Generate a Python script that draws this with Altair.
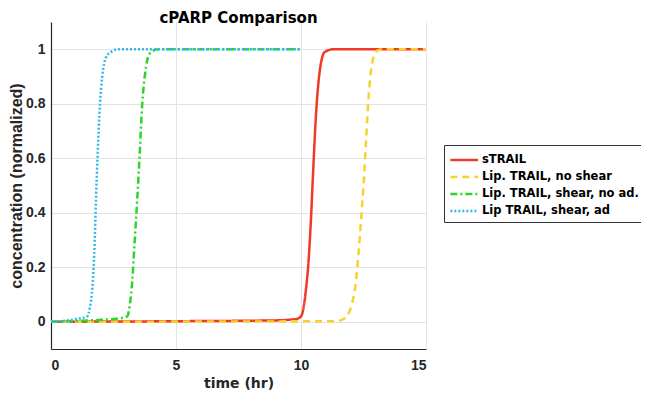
import altair as alt
import pandas as pd

chart_title = ["cPARP Comparison"]
series_names = ["sTRAIL", "Lip. TRAIL, no shear", "Lip. TRAIL, shear, no ad.", "Lip TRAIL, shear, ad"]
series_colors = ["#f03a26", "#f7d22c", "#2bd62b", "#33b8ea"]
series_dash = [[1, 0], [7, 5], [7, 3, 2, 3], [2, 2]]

strail_t = [0, 5, 9, 9.8, 10.0, 10.1, 10.2, 10.3, 10.4, 10.5, 10.6, 10.7, 10.8, 10.95, 11.3, 15]
strail_c = [0, 0.002, 0.005, 0.01, 0.02, 0.05, 0.12, 0.22, 0.38, 0.58, 0.76, 0.88, 0.95, 0.99, 1.0, 1.0]

noshear_t = [0, 11.4, 11.7, 11.9, 12.05, 12.2, 12.3, 12.4, 12.5, 12.6, 12.7, 12.8, 12.9, 13.05, 13.3, 15]
noshear_c = [0, 0.002, 0.01, 0.03, 0.07, 0.15, 0.25, 0.37, 0.5, 0.66, 0.82, 0.92, 0.97, 0.995, 1.0, 1.0]

shearnoad_t = [0, 1, 2, 2.7, 3.05, 3.15, 3.25, 3.35, 3.45, 3.55, 3.65, 3.75, 3.85, 4.0, 4.3, 10]
shearnoad_c = [0, 0.003, 0.007, 0.012, 0.02, 0.06, 0.15, 0.3, 0.45, 0.62, 0.8, 0.9, 0.96, 0.99, 1.0, 1.0]

shearad_t = [0, 0.5, 1.0, 1.45, 1.55, 1.63, 1.73, 1.8, 1.86, 1.96, 2.05, 2.2, 2.4, 2.7, 10]
shearad_c = [0, 0.003, 0.01, 0.02, 0.05, 0.1, 0.25, 0.45, 0.6, 0.8, 0.9, 0.97, 0.99, 1.0, 1.0]

all_t = [strail_t, noshear_t, shearnoad_t, shearad_t]
all_c = [strail_c, noshear_c, shearnoad_c, shearad_c]

rows = []
for name, ts, cs in zip(series_names, all_t, all_c):
    for t, c in zip(ts, cs):
        rows.append({"series": name, "t": t, "c": c})
df = pd.DataFrame(rows)

FONT = "Liberation Sans"
WIDE = "DejaVu Sans"
AX = "#262626"
W = 375
H = 327

x_enc = alt.X("t:Q", scale=alt.Scale(domain=[0, 15], nice=False),
              axis=alt.Axis(values=[0, 5, 10, 15], title="time (hr)",
                            titleFont=WIDE, titleFontSize=14,
                            titleY=38, titleBaseline="alphabetic"))
y_enc = alt.Y("c:Q", scale=alt.Scale(domain=[-0.1, 1.1], nice=False, zero=False),
              axis=alt.Axis(values=[0, 0.2, 0.4, 0.6, 0.8, 1], format="~g",
                            title="concentration (normalized)",
                            titleFont=FONT, titleFontSize=16,
                            titleX=-35, titleY=H / 2, titleBaseline="middle"))
color_enc = alt.Color("series:N", scale=alt.Scale(domain=series_names, range=series_colors),
                      legend=alt.Legend(title=None, orient="none", legendX=393, legendY=123,
                                        symbolType="M-1,0L2.2,0", symbolSize=300,
                                        symbolStrokeWidth=2.5,
                                        labelFont=WIDE, labelFontSize=11.5, labelFontWeight="bold",
                                        labelColor="#000000", strokeColor="#333333", fillColor="white",
                                        padding=5, rowPadding=1, labelOffset=13,
                                        labelLimit=300))
dash_enc = alt.StrokeDash("series:N", scale=alt.Scale(domain=series_names, range=series_dash),
                          legend=None)

layers = []
for name in series_names:
    layers.append(
        alt.Chart(df).transform_filter(alt.datum.series == name)
        .mark_line(strokeWidth=2.5, interpolate="monotone", clip=True)
        .encode(x=x_enc, y=y_enc, color=color_enc, strokeDash=dash_enc, order="t:Q")
    )

title_layer = alt.Chart(pd.DataFrame({"title": chart_title})).mark_text(
    font=WIDE, fontSize=15, fontWeight="bold", color="#000000",
    align="center", baseline="alphabetic"
).encode(text="title:N", x=alt.value(W / 2), y=alt.value(1))

chart = alt.layer(*layers, title_layer).properties(
    width=W, height=H,
    autosize=alt.AutoSizeParams(type="none"),
    padding={"left": 43, "top": 14, "right": 215, "bottom": 45},
).configure_view(stroke=None).configure_axis(
    labelFont=FONT, labelFontSize=14, labelFontWeight="bold", labelColor=AX,
    titleFontWeight="bold", titleColor=AX,
    domainColor=AX, domainWidth=1.2, tickSize=0,
    gridColor="#e3e3e3", gridWidth=1,
).configure_axisX(labelPadding=9).configure_axisY(labelPadding=6)

chart.save("out.html", embed_options={"renderer": "svg", "actions": False})
